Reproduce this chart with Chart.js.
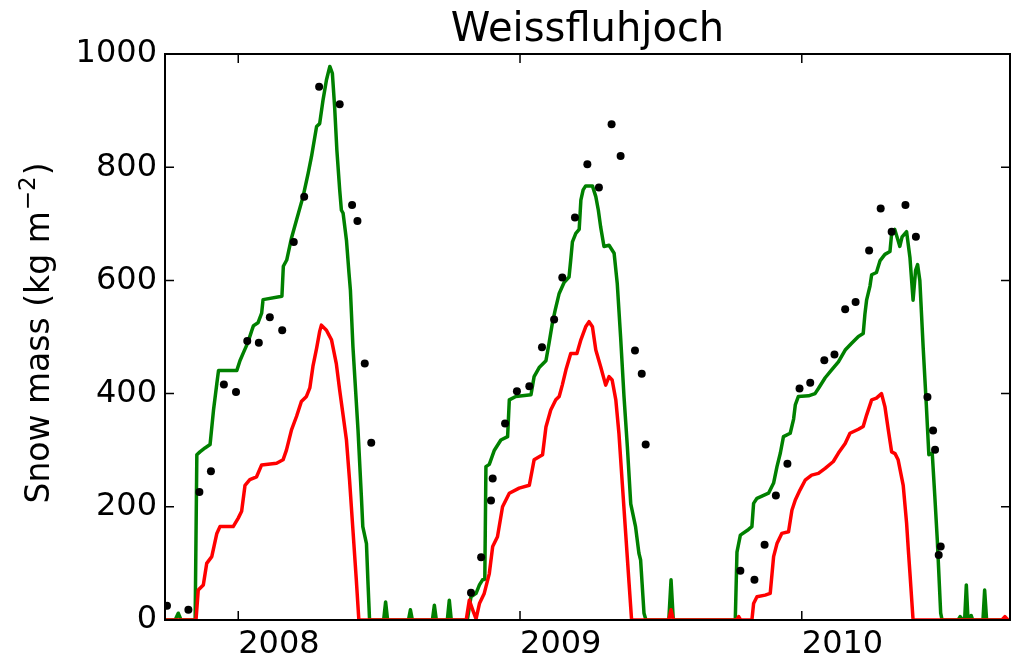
<!DOCTYPE html>
<html>
<head>
<meta charset="utf-8">
<title>Weissfluhjoch</title>
<script src="https://cdn.jsdelivr.net/npm/chart.js@4.4.1/dist/chart.umd.min.js"></script>
<style>
  html, body { margin: 0; padding: 0; background: #fff; }
  #wrap { width: 1014px; height: 661px; position: relative; }
</style>
</head>
<body>
<div id="wrap"><canvas id="snowChart"></canvas></div>
<script>
const siteName = "Weissfluhjoch";
// y label pieces: text, superscript exponent, closing bracket
const yLabelParts = ["Snow mass (kg m", "\u22122", ")"];

// x axis: decimal years
const xMin = 2007.74;
const xMax = 2010.739;
const xTickYears = [2008, 2009, 2010];
const yTickValues = [0, 200, 400, 600, 800, 1000];

// simulated snow mass, full run (green)
const simYears = [
  2007.740, 2007.776, 2007.787, 2007.797, 2007.847, 2007.853, 2007.864, 2007.882, 2007.900, 2007.912,
  2007.924, 2007.930, 2007.995, 2008.006, 2008.018, 2008.034, 2008.047, 2008.054, 2008.070, 2008.083,
  2008.088, 2008.155, 2008.160, 2008.172, 2008.189, 2008.207, 2008.230, 2008.248, 2008.260, 2008.278,
  2008.289, 2008.301, 2008.313, 2008.325, 2008.334, 2008.342, 2008.350, 2008.360, 2008.366, 2008.372,
  2008.384, 2008.393, 2008.398, 2008.407, 2008.425, 2008.437, 2008.442, 2008.455, 2008.460, 2008.466,
  2008.516, 2008.523, 2008.530, 2008.604, 2008.611, 2008.618, 2008.689, 2008.696, 2008.703, 2008.742,
  2008.749, 2008.756, 2008.813, 2008.826, 2008.844, 2008.856, 2008.867, 2008.875, 2008.879, 2008.891,
  2008.909, 2008.932, 2008.956, 2008.962, 2008.985, 2009.039, 2009.050, 2009.068, 2009.092, 2009.103,
  2009.115, 2009.125, 2009.139, 2009.156, 2009.174, 2009.180, 2009.186, 2009.198, 2009.210, 2009.216,
  2009.224, 2009.233, 2009.257, 2009.269, 2009.278, 2009.286, 2009.298, 2009.316, 2009.334, 2009.345,
  2009.357, 2009.369, 2009.381, 2009.393, 2009.410, 2009.422, 2009.428, 2009.440, 2009.447, 2009.528,
  2009.536, 2009.544, 2009.764, 2009.770, 2009.782, 2009.811, 2009.823, 2009.829, 2009.841, 2009.882,
  2009.900, 2009.912, 2009.924, 2009.935, 2009.959, 2009.971, 2009.977, 2009.988, 2010.024, 2010.047,
  2010.059, 2010.083, 2010.106, 2010.130, 2010.154, 2010.177, 2010.201, 2010.218, 2010.224, 2010.230,
  2010.242, 2010.248, 2010.265, 2010.278, 2010.295, 2010.313, 2010.319, 2010.330, 2010.341, 2010.348,
  2010.356, 2010.372, 2010.384, 2010.395, 2010.404, 2010.411, 2010.419, 2010.431, 2010.442, 2010.451,
  2010.463, 2010.472, 2010.481, 2010.493, 2010.498, 2010.555, 2010.562, 2010.572, 2010.578, 2010.584,
  2010.590, 2010.601, 2010.607, 2010.643, 2010.649, 2010.656, 2010.739
];
const simMass = [
  0, 0, 12, 0, 0, 292, 297, 304, 310, 370,
  418, 441, 441, 458, 472, 490, 510, 520, 525, 542,
  566, 572, 625, 636, 675, 707, 748, 789, 819, 872,
  877, 919, 954, 978, 966, 907, 830, 760, 724, 719,
  671, 613, 583, 483, 336, 218, 165, 135, 71, 0,
  0, 32, 0, 0, 18, 0, 0, 26, 0, 0,
  35, 0, 0, 41, 47, 62, 71, 72, 271, 275,
  300, 318, 324, 389, 395, 398, 430, 446, 458, 489,
  525, 548, 577, 596, 606, 636, 668, 683, 690, 742,
  760, 767, 767, 748, 724, 695, 660, 662, 648, 595,
  500, 395, 306, 205, 165, 118, 106, 12, 0, 0,
  71, 0, 0, 120, 150, 160, 165, 206, 215, 224,
  242, 271, 295, 324, 330, 355, 380, 395, 396, 400,
  409, 428, 442, 456, 477, 489, 501, 506, 540, 565,
  590, 610, 614, 635, 646, 651, 683, 690, 672, 660,
  677, 686, 640, 565, 618, 628, 600, 480, 380, 292,
  295, 220, 141, 12, 0, 0, 6, 0, 0, 62,
  0, 8, 0, 0, 53, 0, 0
];

// second simulation (red)
const altYears = [
  2007.740, 2007.850, 2007.858, 2007.876, 2007.888, 2007.906, 2007.924, 2007.935, 2007.982, 2008.000,
  2008.012, 2008.024, 2008.041, 2008.065, 2008.083, 2008.136, 2008.159, 2008.171, 2008.189, 2008.207,
  2008.224, 2008.242, 2008.254, 2008.265, 2008.278, 2008.289, 2008.295, 2008.313, 2008.331, 2008.348,
  2008.360, 2008.372, 2008.384, 2008.395, 2008.407, 2008.419, 2008.428, 2008.809, 2008.820, 2008.832,
  2008.844, 2008.856, 2008.873, 2008.891, 2008.903, 2008.920, 2008.938, 2008.962, 2008.997, 2009.033,
  2009.050, 2009.080, 2009.092, 2009.109, 2009.127, 2009.139, 2009.150, 2009.163, 2009.180, 2009.202,
  2009.216, 2009.233, 2009.245, 2009.257, 2009.269, 2009.286, 2009.304, 2009.316, 2009.327, 2009.340,
  2009.351, 2009.363, 2009.375, 2009.387, 2009.396, 2009.528, 2009.536, 2009.544, 2009.769, 2009.776,
  2009.783, 2009.823, 2009.829, 2009.841, 2009.870, 2009.888, 2009.900, 2009.912, 2009.929, 2009.953,
  2009.965, 2009.977, 2009.994, 2010.012, 2010.035, 2010.059, 2010.083, 2010.112, 2010.130, 2010.154,
  2010.171, 2010.201, 2010.218, 2010.230, 2010.248, 2010.265, 2010.283, 2010.295, 2010.307, 2010.319,
  2010.331, 2010.342, 2010.360, 2010.372, 2010.378, 2010.384, 2010.395, 2010.710, 2010.721, 2010.732,
  2010.739
];
const altMass = [
  0, 0, 53, 62, 100, 112, 153, 165, 165, 180,
  192, 238, 248, 253, 274, 277, 283, 300, 336, 360,
  386, 395, 410, 448, 480, 510, 521, 512, 495, 453,
  406, 362, 318, 247, 159, 71, 0, 0, 35, 18,
  2, 29, 47, 82, 130, 147, 200, 224, 233, 238,
  283, 292, 341, 371, 389, 395, 415, 442, 471, 471,
  495, 518, 527, 518, 477, 448, 415, 430, 424, 389,
  330, 241, 153, 65, 0, 0, 18, 0, 0, 6,
  0, 0, 29, 41, 44, 47, 112, 135, 153, 156,
  194, 212, 230, 247, 256, 259, 268, 280, 295, 312,
  330, 337, 342, 362, 389, 392, 400, 377, 336, 297,
  294, 283, 238, 171, 125, 82, 0, 0, 6, 0,
  0
];

// observed snow mass (black dots)
const obsYears = [
  2007.747, 2007.823, 2007.862, 2007.903, 2007.949, 2007.992, 2008.032, 2008.073, 2008.112, 2008.156,
  2008.197, 2008.234, 2008.287, 2008.360, 2008.404, 2008.423, 2008.449, 2008.472,
  2008.826, 2008.862, 2008.897, 2008.903, 2008.947, 2008.989, 2009.033, 2009.078, 2009.121, 2009.150,
  2009.195, 2009.239, 2009.280, 2009.325, 2009.357, 2009.408, 2009.432, 2009.446,
  2009.782, 2009.832, 2009.868, 2009.908, 2009.949, 2009.992, 2010.030, 2010.080, 2010.116, 2010.154,
  2010.191, 2010.239, 2010.280, 2010.319, 2010.368, 2010.405, 2010.446, 2010.466, 2010.473, 2010.486,
  2010.493
];
const obsMass = [
  25, 18, 226, 263, 416, 403, 493, 490, 535, 512,
  668, 748, 942, 911, 733, 705, 453, 313,
  48, 111, 211, 250, 347, 404, 413, 482, 531, 605,
  711, 805, 764, 876, 820, 476, 435, 310,
  87, 71, 133, 220, 276, 409, 419, 459, 469, 549,
  562, 653, 727, 686, 733, 677, 394, 335, 301, 115,
  130
];

const toPoints = (xs, ys) => xs.map((x, i) => ({ x: x, y: ys[i] }));

const FONT = "'DejaVu Sans', sans-serif";
const TICK_LEN = 9;

// matplotlib-style box: frame, inward ticks on every side, title, y label with exponent
const axesFrame = {
  id: "axesFrame",
  afterDraw(chart) {
    const { ctx, chartArea: a, scales } = chart;
    const x = scales.x, y = scales.y;
    ctx.save();
    ctx.strokeStyle = "#000";
    ctx.lineWidth = 1.5;
    ctx.beginPath();
    xTickYears.forEach((v) => {
      const px = x.getPixelForValue(v);
      ctx.moveTo(px, a.bottom);
      ctx.lineTo(px, a.bottom - TICK_LEN);
      ctx.moveTo(px, a.top);
      ctx.lineTo(px, a.top + TICK_LEN);
    });
    yTickValues.forEach((v) => {
      const py = y.getPixelForValue(v);
      ctx.moveTo(a.left, py);
      ctx.lineTo(a.left + TICK_LEN, py);
      ctx.moveTo(a.right, py);
      ctx.lineTo(a.right - TICK_LEN, py);
    });
    ctx.stroke();

    ctx.lineWidth = 2;
    ctx.strokeRect(a.left, a.top, a.right - a.left, a.bottom - a.top);

    ctx.fillStyle = "#000";
    ctx.font = "40px " + FONT;
    ctx.textAlign = "center";
    ctx.textBaseline = "alphabetic";
    ctx.fillText(siteName, (a.left + a.right) / 2, 41);

    // rotated y label, exponent set smaller and raised
    const mainFont = "33px " + FONT;
    const supFont = "23px " + FONT;
    ctx.font = mainFont;
    const w1 = ctx.measureText(yLabelParts[0]).width;
    const w3 = ctx.measureText(yLabelParts[2]).width;
    ctx.font = supFont;
    const w2 = ctx.measureText(yLabelParts[1]).width + 2;
    const total = w1 + w2 + w3;
    ctx.translate(49, (a.top + a.bottom) / 2 - 4);
    ctx.rotate(-Math.PI / 2);
    ctx.textAlign = "left";
    let cx = -total / 2;
    ctx.font = mainFont;
    ctx.fillText(yLabelParts[0], cx, 0);
    cx += w1;
    ctx.font = supFont;
    ctx.fillText(yLabelParts[1], cx + 1, -14);
    cx += w2;
    ctx.font = mainFont;
    ctx.fillText(yLabelParts[2], cx, 0);
    ctx.restore();
  },
};

const ctx = document.getElementById("snowChart").getContext("2d");
new Chart(ctx, {
  type: "line",
  data: {
    datasets: [
      {
        label: "Observed",
        type: "scatter",
        data: toPoints(obsYears, obsMass),
        showLine: false,
        pointRadius: 4,
        pointHoverRadius: 4,
        pointBackgroundColor: "#000",
        pointBorderWidth: 0,
        clip: 0,
        order: 0,
      },
      {
        label: "Simulation B",
        data: toPoints(altYears, altMass),
        borderColor: "#ff0000",
        borderWidth: 3.5,
        borderJoinStyle: "round",
        pointRadius: 0,
        fill: false,
        clip: 0,
        order: 1,
      },
      {
        label: "Simulation A",
        data: toPoints(simYears, simMass),
        borderColor: "#008000",
        borderWidth: 3.5,
        borderJoinStyle: "round",
        pointRadius: 0,
        fill: false,
        clip: 0,
        order: 2,
      },
    ],
  },
  options: {
    responsive: true,
    maintainAspectRatio: false,
    animation: false,
    devicePixelRatio: 1,
    layout: { padding: { top: 54, right: 2, bottom: 0, left: 0 } },
    plugins: {
      legend: { display: false },
      tooltip: { enabled: false },
      title: { display: false },
    },
    scales: {
      x: {
        type: "linear",
        min: xMin,
        max: xMax,
        grid: { display: false, drawTicks: false },
        border: { display: false },
        afterBuildTicks: (scale) => {
          scale.ticks = xTickYears.map((v) => ({ value: v }));
        },
        afterFit: (scale) => {
          scale.height = 41;
        },
        ticks: {
          align: "start",
          padding: 5,
          color: "#000",
          font: { family: FONT, size: 32 },
          maxRotation: 0,
          callback: (v) => String(v),
        },
      },
      y: {
        min: 0,
        max: 1000,
        grid: { display: false, drawTicks: false },
        border: { display: false },
        afterBuildTicks: (scale) => {
          scale.ticks = yTickValues.map((v) => ({ value: v }));
        },
        afterFit: (scale) => {
          scale.width = 165;
        },
        ticks: {
          padding: 8,
          color: "#000",
          font: { family: FONT, size: 32 },
          callback: (v) => String(v),
        },
      },
    },
  },
  plugins: [axesFrame],
});
</script>
</body>
</html>
